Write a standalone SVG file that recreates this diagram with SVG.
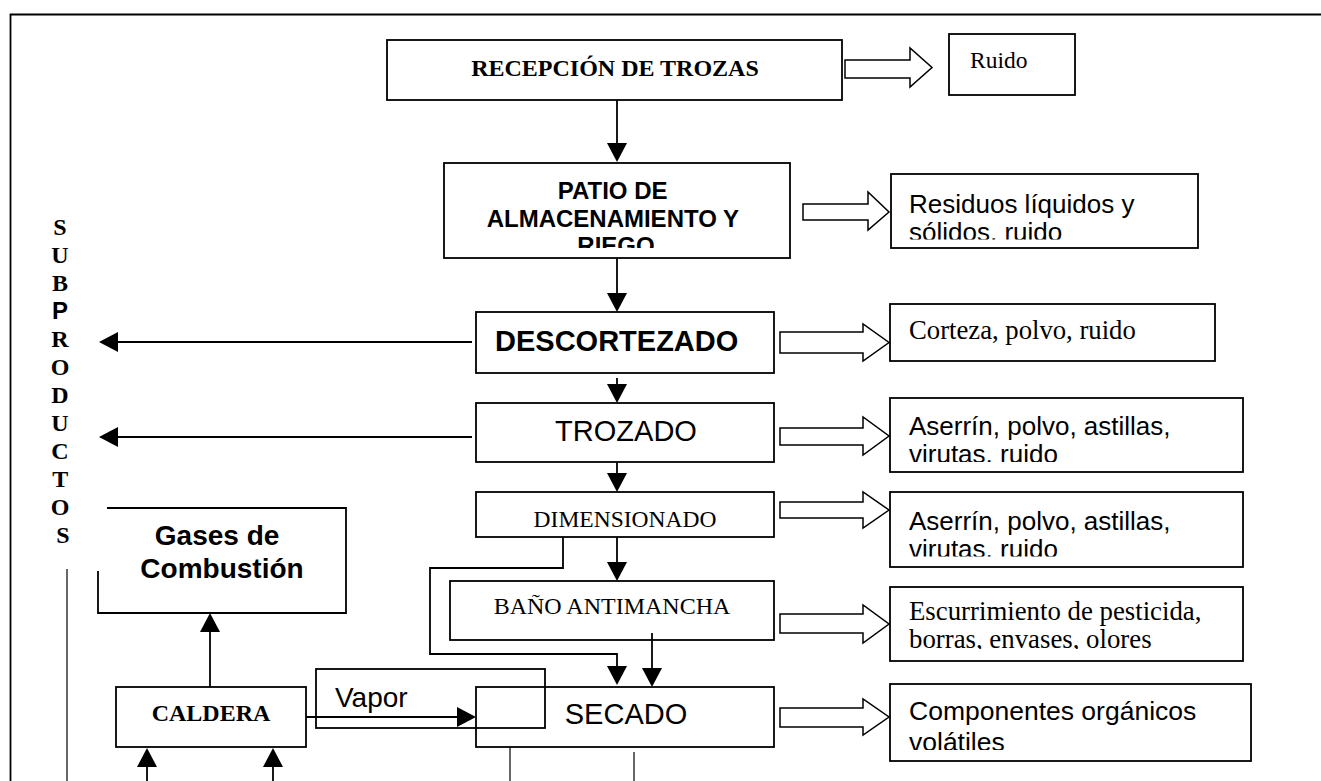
<svg xmlns="http://www.w3.org/2000/svg" width="1321" height="781" viewBox="0 0 1321 781">
<style>
.box{fill:none;stroke:#000;stroke-width:1.8}
.ln{fill:none;stroke:#000;stroke-width:1.8}
.thin{fill:none;stroke:#000;stroke-width:1.2}
.hol{fill:#fff;stroke:#000;stroke-width:1.5;stroke-linejoin:miter}
.sans{font-family:"Liberation Sans",Arial,sans-serif;fill:#000}
.serif{font-family:"Liberation Serif","Times New Roman",serif;fill:#000}
.b{font-weight:bold}
</style>
<defs>
<marker id="ah" viewBox="0 0 19 20" refX="15" refY="10" markerWidth="19" markerHeight="20" markerUnits="userSpaceOnUse" orient="auto">
<path d="M0,0 L19,10 L0,20 z" fill="#000"/>
</marker>
<clipPath id="cPatio"><rect x="444" y="163" width="346" height="85"/></clipPath>
<clipPath id="cRes"><rect x="891" y="174" width="307" height="65.5"/></clipPath>
<clipPath id="cAs1"><rect x="890" y="398" width="353" height="64"/></clipPath>
<clipPath id="cAs2"><rect x="890" y="492" width="353" height="64.5"/></clipPath>
<clipPath id="cEsc"><rect x="890" y="587" width="353" height="62"/></clipPath>
<clipPath id="cComp"><rect x="890" y="684" width="361" height="66"/></clipPath>
</defs>
<rect width="1321" height="781" fill="#fff"/>

<g id="frame">
<path class="ln" d="M10.5,781 V14.5 H1321"/>
</g>

<g id="subproductos">
<text class="serif b" font-size="24" text-anchor="middle">
<tspan x="63" y="235">S</tspan>
<tspan x="63" y="263">U</tspan>
<tspan x="63" y="291">B</tspan>
<tspan x="63" y="319" class="sans b">P</tspan>
<tspan x="63" y="347">R</tspan>
<tspan x="63" y="375">O</tspan>
<tspan x="63" y="403">D</tspan>
<tspan x="63" y="431">U</tspan>
<tspan x="63" y="459">C</tspan>
<tspan x="63" y="487">T</tspan>
<tspan x="63" y="515">O</tspan>
<tspan x="63" y="543">S</tspan>
</text>
<path class="thin" d="M67,569 V781"/>
</g>

<g id="recepcion">
<rect class="box" x="387" y="40" width="455" height="60"/>
<text class="serif b" font-size="24" x="615" y="76" text-anchor="middle">RECEPCIÓN DE TROZAS</text>
</g>
<g id="ruido">
<rect class="box" x="949" y="34" width="126" height="61"/>
<text class="serif" font-size="23.5" x="970" y="68">Ruido</text>
</g>

<g id="patio">
<rect class="box" x="444" y="163" width="346" height="95"/>
<text class="sans b" font-size="24" text-anchor="middle" clip-path="url(#cPatio)">
<tspan x="616" y="199">PATIO DE</tspan>
<tspan x="616" y="226.5">ALMACENAMIENTO Y</tspan>
<tspan x="616" y="254">RIEGO</tspan>
</text>
</g>
<g id="residuos">
<rect class="box" x="891" y="174" width="307" height="74"/>
<text class="sans" font-size="26" clip-path="url(#cRes)">
<tspan x="909" y="213">Residuos líquidos y</tspan>
<tspan x="909" y="240.5">sólidos, ruido</tspan>
</text>
</g>

<g id="descortezado">
<rect class="box" x="476" y="312" width="298" height="61"/>
<text class="sans b" font-size="29" x="495" y="351">DESCORTEZADO</text>
</g>
<g id="corteza">
<rect class="box" x="890" y="304" width="325" height="57"/>
<text class="serif" font-size="26.7" x="909" y="339">Corteza, polvo, ruido</text>
</g>

<g id="trozado">
<rect class="box" x="476" y="403" width="298" height="59"/>
<text class="sans" font-size="29" x="626" y="441" text-anchor="middle">TROZADO</text>
</g>
<g id="aserrin1">
<rect class="box" x="890" y="398" width="353" height="74"/>
<text class="sans" font-size="26" clip-path="url(#cAs1)">
<tspan x="909" y="435">Aserrín, polvo, astillas,</tspan>
<tspan x="909" y="463">virutas, ruido</tspan>
</text>
</g>

<g id="dimensionado">
<rect class="box" x="476" y="492" width="298" height="45"/>
<text class="serif" font-size="23.5" x="625" y="527" text-anchor="middle">DIMENSIONADO</text>
</g>
<g id="aserrin2">
<rect class="box" x="890" y="492" width="353" height="75"/>
<text class="sans" font-size="26" clip-path="url(#cAs2)">
<tspan x="909" y="530">Aserrín, polvo, astillas,</tspan>
<tspan x="909" y="558">virutas, ruido</tspan>
</text>
</g>

<g id="bano">
<rect class="box" x="450" y="581" width="324" height="59"/>
<text class="serif" font-size="24" x="612" y="614" text-anchor="middle">BAÑO ANTIMANCHA</text>
</g>
<g id="escurrimiento">
<rect class="box" x="890" y="587" width="353" height="74"/>
<text class="serif" font-size="26.8" clip-path="url(#cEsc)">
<tspan x="909" y="620">Escurrimiento de pesticida,</tspan>
<tspan x="909" y="648">borras, envases, olores</tspan>
</text>
</g>

<g id="gases">
<path class="box" d="M107,508 H346 V613 H98 V571"/>
<text class="sans b" font-size="28" text-anchor="middle">
<tspan x="221" y="545">Gases de</tspan>
<tspan x="222" y="578">Combustión</tspan>
</text>
</g>

<g id="caldera">
<rect class="box" x="116" y="687" width="190" height="60"/>
<text class="serif b" font-size="24" x="211" y="721" text-anchor="middle">CALDERA</text>
</g>

<g id="vapor">
<rect class="box" x="316" y="669" width="229" height="59"/>
<text class="sans" font-size="28" x="335" y="707">Vapor</text>
</g>

<g id="secado">
<rect class="box" x="476" y="687" width="298" height="60"/>
<text class="sans" font-size="29" x="626" y="724" text-anchor="middle">SECADO</text>
</g>
<g id="componentes">
<rect class="box" x="890" y="684" width="361" height="77"/>
<text class="sans" font-size="26.5" clip-path="url(#cComp)">
<tspan x="909" y="720">Componentes orgánicos</tspan>
<tspan x="909" y="750.5">volátiles</tspan>
</text>
</g>

<g id="connectors">
<path class="ln" d="M617,100 V158" marker-end="url(#ah)"/>
<path class="ln" d="M617,258 V308" marker-end="url(#ah)"/>
<path class="ln" d="M617,378 V399" marker-end="url(#ah)"/>
<path class="ln" d="M617,462 V488" marker-end="url(#ah)"/>
<path class="ln" d="M617,537 V577" marker-end="url(#ah)"/>
<path class="ln" d="M472,342 H103" marker-end="url(#ah)"/>
<path class="ln" d="M472,437 H103" marker-end="url(#ah)"/>
<path class="ln" d="M563,537 V568 H430 V654 H617 V681" marker-end="url(#ah)"/>
<path class="ln" d="M652,633 V683" marker-end="url(#ah)"/>
<path class="ln" d="M306,717 H472" marker-end="url(#ah)"/>
<path class="ln" d="M210,687 V617" marker-end="url(#ah)"/>
<path class="ln" d="M147,781 V752" marker-end="url(#ah)"/>
<path class="ln" d="M273,781 V752" marker-end="url(#ah)"/>
<path class="thin" d="M510,747 V781"/>
<path class="thin" d="M634,752 V781"/>
<polygon class="hol" points="845,60 910,60 910,48 932,67.5 910,87 910,78 845,78"/>
<polygon class="hol" points="803,204 868,204 868,192 889,212 868,230 868,220 803,220"/>
<polygon class="hol" points="780,332 863,332 863,324 889,342.5 863,361 863,353 780,353"/>
<polygon class="hol" points="780,428 863,428 863,417 889,436 863,455 863,445 780,445"/>
<polygon class="hol" points="780,502 863,502 863,492 889,510 863,528 863,518 780,518"/>
<polygon class="hol" points="780,614 863,614 863,605 889,624 863,643 863,633 780,633"/>
<polygon class="hol" points="780,708 863,708 863,699 889,717 863,735 863,727 780,727"/>
</g>
</svg>
